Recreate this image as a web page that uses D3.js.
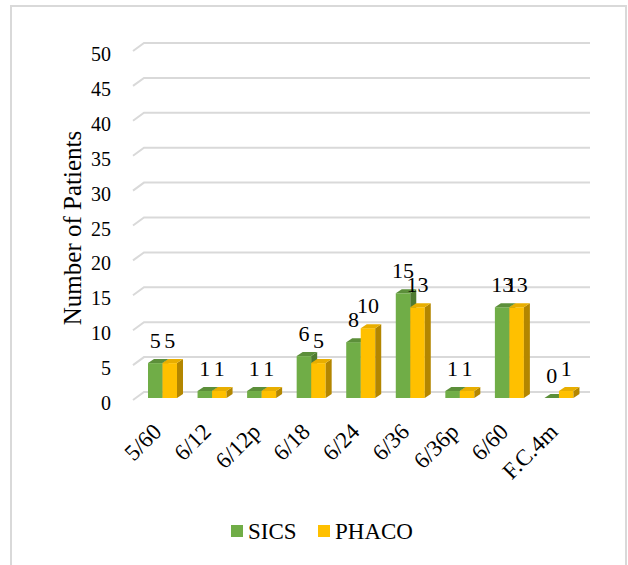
<!DOCTYPE html>
<html>
<head>
<meta charset="utf-8">
<script src="https://cdn.jsdelivr.net/npm/d3@7"></script>
<style>
  body { margin: 0; background: #fff; }
  svg { display: block; font-family: "Liberation Serif", "Times New Roman", serif; }
</style>
</head>
<body>
<script>
var categories = ['5/60', '6/12', '6/12p', '6/18', '6/24', '6/36', '6/36p', '6/60', 'F.C.4m'];
var sics = [5, 1, 1, 6, 8, 15, 1, 13, 0];
var phaco = [5, 1, 1, 5, 10, 13, 1, 13, 1];
var yTicks = [0, 5, 10, 15, 20, 25, 30, 35, 40, 45, 50];
var seriesNames = ['SICS', 'PHACO'];

var width = 628, height = 565;

var svg = d3.select('body').append('svg')
    .attr('width', width)
    .attr('height', height);

// outer frame
svg.append('rect')
    .attr('x', 11).attr('y', 6)
    .attr('width', 615).attr('height', 570)
    .attr('fill', 'none')
    .attr('stroke', '#d9d9d9')
    .attr('stroke-width', 2);

var x = d3.scaleBand()
    .domain(categories)
    .range([133, 579]);

// front plane of the 3d box
var y = d3.scaleLinear()
    .domain([0, 50])
    .range([400, 51]);

// plane where the bars stand
var yBar = d3.scaleLinear()
    .domain([0, 50])
    .range([398, 49]);

var depth = { dx: 11, dy: -8 };
var barDepth = { dx: 6, dy: -4 };

// gridlines with the slanted side wall
var grid = svg.append('g').attr('class', 'grid');
grid.selectAll('path')
    .data(yTicks)
    .enter().append('path')
    .attr('d', function (d) {
        var x0 = x.range()[0], y0 = y(d);
        return 'M' + x0 + ',' + y0 +
            'L' + (x0 + depth.dx) + ',' + (y0 + depth.dy) +
            'L' + (x.range()[1] + depth.dx) + ',' + (y0 + depth.dy);
    })
    .attr('fill', 'none')
    .attr('stroke', '#d9d9d9')
    .attr('stroke-width', 2);

// y tick labels
svg.append('g').selectAll('text')
    .data(yTicks)
    .enter().append('text')
    .attr('x', 111)
    .attr('y', function (d) { return y(d) + 10; })
    .attr('text-anchor', 'end')
    .attr('font-size', 20)
    .text(function (d) { return d; });

// axis title
svg.append('text')
    .attr('transform', 'translate(81,228) rotate(-90)')
    .attr('text-anchor', 'middle')
    .attr('font-size', 25)
    .text('Number of Patients');

var barW = 14.5;
var series = [
    { name: 'SICS', values: sics, front: '#70ad47', side: '#4f7b31', top: '#5c8f3a', off: 15 },
    { name: 'PHACO', values: phaco, front: '#ffc000', side: '#b38600', top: '#e8ae00', off: 15 + barW }
];

function drawBars(s) {
    var g = svg.append('g').attr('class', 'bars-' + s.name);
    var items = g.selectAll('g')
        .data(categories.map(function (c, i) { return { cat: c, value: s.values[i] }; }))
        .enter().append('g');

    items.append('rect')
        .attr('x', function (d) { return x(d.cat) + s.off; })
        .attr('y', function (d) { return yBar(d.value); })
        .attr('width', barW)
        .attr('height', function (d) { return yBar(0) - yBar(d.value); })
        .attr('fill', s.front);

    // right side
    items.append('path')
        .attr('d', function (d) {
            var xr = x(d.cat) + s.off + barW, yt = yBar(d.value), yb = yBar(0);
            return 'M' + xr + ',' + yt + 'L' + (xr + barDepth.dx) + ',' + (yt + barDepth.dy) +
                'L' + (xr + barDepth.dx) + ',' + (yb + barDepth.dy) + 'L' + xr + ',' + yb + 'Z';
        })
        .attr('fill', s.side);

    // top
    items.append('path')
        .attr('d', function (d) {
            var xl = x(d.cat) + s.off, yt = yBar(d.value);
            return 'M' + xl + ',' + yt + 'L' + (xl + barDepth.dx) + ',' + (yt + barDepth.dy) +
                'L' + (xl + barW + barDepth.dx) + ',' + (yt + barDepth.dy) + 'L' + (xl + barW) + ',' + yt + 'Z';
        })
        .attr('fill', s.top);

    return items;
}

var sicsBars = drawBars(series[0]);
var phacoBars = drawBars(series[1]);

// data labels
series.forEach(function (s) {
    svg.append('g').selectAll('text')
        .data(categories.map(function (c, i) { return { cat: c, value: s.values[i] }; }))
        .enter().append('text')
        .attr('x', function (d) { return x(d.cat) + s.off + barW / 2; })
        .attr('y', function (d) { return yBar(d.value) - 15; })
        .attr('text-anchor', 'middle')
        .attr('font-size', 22)
        .text(function (d) { return d.value; });
});

// x labels
svg.append('g').selectAll('text')
    .data(categories)
    .enter().append('text')
    .attr('transform', function (d) {
        return 'translate(' + (x(d) + x.bandwidth() / 2 + 5) + ',433) rotate(-45)';
    })
    .attr('text-anchor', 'end')
    .attr('font-size', 23)
    .text(function (d) { return d; });

// legend
var legend = svg.append('g').attr('class', 'legend');
var legendX = [231, 318];
series.forEach(function (s, i) {
    legend.append('rect')
        .attr('x', legendX[i]).attr('y', 525)
        .attr('width', 12).attr('height', 12)
        .attr('fill', s.front);
    legend.append('text')
        .attr('x', legendX[i] + 17)
        .attr('y', 539)
        .attr('font-size', 23)
        .text(seriesNames[i]);
});
</script>
</body>
</html>
